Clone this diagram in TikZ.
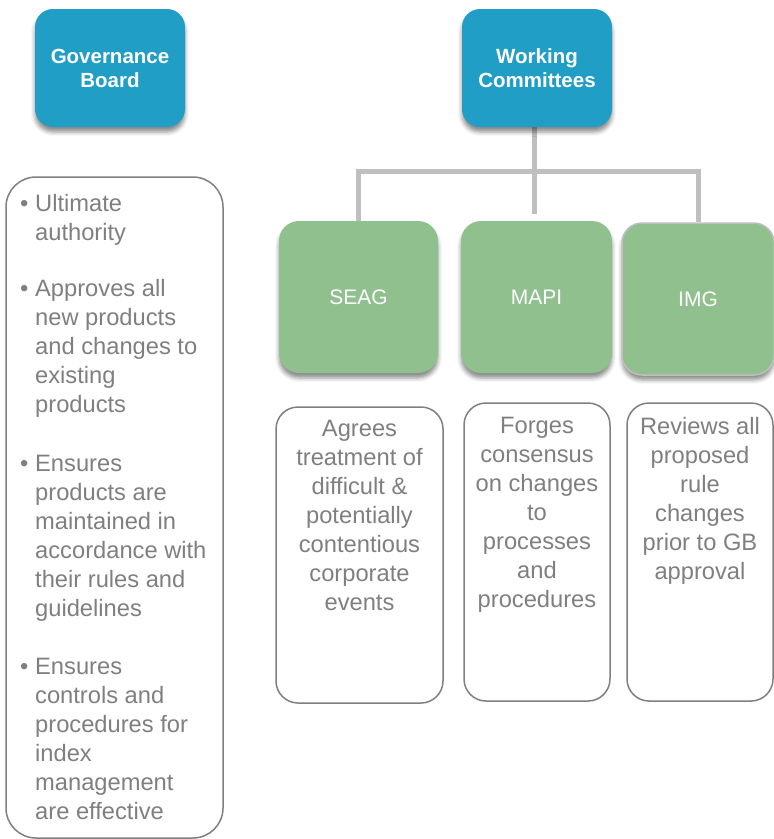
\documentclass[tikz,border=0pt]{standalone}
\usepackage{fontspec}
\setmainfont{Liberation Sans}
\usetikzlibrary{shadows.blur,backgrounds}
\definecolor{gbblue}{RGB}{32,158,197}
\definecolor{wcgreen}{RGB}{143,192,142}
\definecolor{txtgray}{RGB}{127,127,127}
\definecolor{linegray}{RGB}{191,191,191}
\begin{document}
\begin{tikzpicture}[x=1pt,y=-1pt,
  headbox/.style={rectangle, rounded corners=18pt, fill=gbblue, text=white,
    font=\fontsize{20.5}{24}\selectfont\bfseries, align=center,
    minimum width=150pt, minimum height=118pt, inner sep=0pt,
    blur shadow={shadow xshift=0pt, shadow yshift=-5pt, shadow blur radius=4pt, shadow opacity=45}},
  combox/.style={rectangle, rounded corners=20pt, fill=wcgreen, text=white,
    font=\fontsize{21}{25}\selectfont, minimum height=152pt, inner sep=0pt,
    blur shadow={shadow xshift=0pt, shadow yshift=-5pt, shadow blur radius=4pt, shadow opacity=45}},
  descbox/.style={rectangle, draw=txtgray, line width=1.5pt, rounded corners=22pt, inner sep=0pt},
  desctext/.style={anchor=north, text=txtgray, align=center, inner sep=0pt,
    font=\fontsize{23.7}{29}\selectfont},
  conn/.style={draw=linegray, line width=5pt}]
\useasboundingbox (0,0) rectangle (774,839);

% top boxes
\node[headbox] (gb) at (110,68) {Governance\\Board};
\node[headbox] (wc) at (537,68) {Working\\Committees};

% committee boxes
\node[combox, minimum width=159pt] (seag) at (358.5,297) {SEAG};
\node[combox, minimum width=151pt] (mapi) at (536.5,297) {MAPI};
\node[combox, minimum width=152pt, draw=linegray, line width=1.5pt] (img) at (698,299) {IMG};

% connectors
\coordinate (junc) at (534,171.5);
\begin{scope}[on background layer]
\draw[conn, shorten >=7pt] (wc.south -| junc) -- (junc |- mapi.north);
\draw[conn] (seag.north) |- (junc) -| (img.north);
\end{scope}

% description boxes
\node[descbox, minimum width=167pt, minimum height=296pt] (seagd) at (359.5,555) {};
\node[descbox, minimum width=146pt, minimum height=298pt] (mapid) at (537,552) {};
\node[descbox, minimum width=146pt, minimum height=298pt] (imgd) at (700,552) {};
\node[desctext] (seagt) at ([yshift=-14pt]seagd.north) {Agrees\\treatment of\\difficult \&\\potentially\\contentious\\corporate\\events};
\node[desctext] (mapit) at ([yshift=-15pt]mapid.north) {Forges\\consensus\\on changes\\to\\processes\\and\\procedures};
\node[desctext] (imgt) at ([yshift=-15pt]imgd.north) {Reviews all\\proposed\\rule\\changes\\prior to GB\\approval};

% governance board description
\node[descbox, minimum width=217pt, minimum height=661pt, rounded corners=30pt] (gbd) at (114.5,507.5) {};
\node[anchor=north west, text=txtgray, align=left, inner sep=0pt,
  font=\fontsize{23.7}{29}\selectfont] (gbt) at (20,194) {%
\makebox[15pt][l]{•}Ultimate\\
\hspace*{15pt}authority\\[27pt]
\makebox[15pt][l]{•}Approves all\\
\hspace*{15pt}new products\\
\hspace*{15pt}and changes to\\
\hspace*{15pt}existing\\
\hspace*{15pt}products\\[30pt]
\makebox[15pt][l]{•}Ensures\\
\hspace*{15pt}products are\\
\hspace*{15pt}maintained in\\
\hspace*{15pt}accordance with\\
\hspace*{15pt}their rules and\\
\hspace*{15pt}guidelines\\[29pt]
\makebox[15pt][l]{•}Ensures\\
\hspace*{15pt}controls and\\
\hspace*{15pt}procedures for\\
\hspace*{15pt}index\\
\hspace*{15pt}management\\
\hspace*{15pt}are effective};
\end{tikzpicture}
\end{document}
